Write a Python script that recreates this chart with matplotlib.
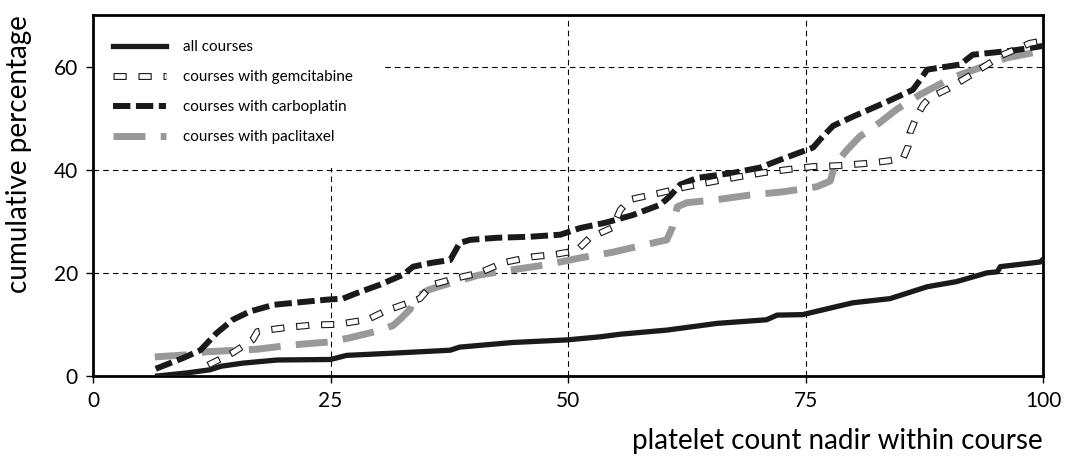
import matplotlib
matplotlib.use('Agg')
from matplotlib import pyplot as plt
from matplotlib.patches import Rectangle

plt.rcParams['font.family'] = ['Lato', 'DejaVu Sans']
plt.rcParams['lines.scale_dashes'] = False

# all courses
all_x = [6.8, 9.9, 12.3, 13.5, 15.8, 19.4, 25.0, 26.7, 31.3, 37.6, 38.6, 44.2, 49.9, 53.4,
         55.5, 60.4, 65.7, 70.9, 72.0, 74.7, 78.6, 80.0, 83.9, 87.8, 90.9, 94.1, 95.2,
         95.5, 99.7, 100]
all_y = [0.0, 0.6, 1.2, 1.9, 2.5, 3.1, 3.2, 4.0, 4.4, 5.0, 5.6, 6.5, 7.0, 7.6,
         8.1, 8.9, 10.2, 10.9, 11.8, 11.9, 13.6, 14.2, 15.0, 17.3, 18.3, 20.0, 20.2,
         21.2, 22.1, 22.6]

# courses with gemcitabine
gem_x = [12.1, 14.7, 16.8, 17.3, 17.9, 20.4, 23.2, 25.7, 28.1, 29.2, 31.0, 32.0, 34.4,
         35.7, 38.3, 40.7, 43.2, 46.2, 48.4, 50.9, 52.3, 54.7, 55.5, 56.5, 59.7, 62.5,
         65.3, 67.9, 70.5, 73.0, 75.8, 78.6, 81.3, 83.7, 85.3, 85.8, 86.0, 86.7, 87.4,
         88.1, 90.0, 92.0, 95.8, 98.6, 100]
gem_y = [2.1, 4.5, 7.0, 8.6, 8.8, 9.4, 9.9, 10.0, 10.7, 11.2, 12.8, 13.4, 15.0,
         17.7, 19.0, 20.0, 22.0, 23.1, 23.5, 24.3, 26.8, 28.8, 32.2, 34.2, 35.5, 36.7,
         37.7, 38.6, 39.4, 40.0, 40.6, 40.8, 41.2, 41.7, 42.3, 44.5, 47.2, 50.3, 52.6,
         54.0, 55.7, 57.9, 62.3, 64.5, 65.0]

# courses with carboplatin
carbo_x = [6.6, 9.5, 11.3, 13.0, 14.7, 16.5, 19.0, 21.8, 24.6, 26.3, 27.8, 30.2, 32.6,
           33.7, 35.5, 37.6, 38.6, 39.7, 42.5, 46.0, 49.2, 51.3, 53.9, 56.8, 59.7, 60.7,
           61.8, 63.6, 67.4, 70.2, 72.3, 75.8, 76.8, 77.9, 80.0, 83.6, 86.3, 87.1, 87.8,
           91.3, 92.6, 94.7, 96.8, 99.0, 100]
carbo_y = [1.4, 3.5, 5.0, 8.3, 10.9, 12.5, 13.8, 14.3, 14.8, 15.0, 16.1, 17.7, 19.6,
           21.2, 21.9, 22.5, 25.8, 26.4, 26.8, 27.0, 27.4, 28.7, 29.7, 31.2, 33.2, 34.8,
           37.1, 38.4, 39.4, 40.4, 41.9, 44.3, 46.4, 48.5, 50.3, 53.2, 55.5, 57.5, 59.4,
           60.4, 62.3, 62.7, 63.1, 63.7, 64.0]

# courses with paclitaxel
pacli_x = [6.5, 9.9, 12.0, 15.2, 17.3, 20.0, 22.1, 24.9, 27.0, 29.9, 31.6, 32.5, 33.4,
           33.8, 35.3, 37.6, 40.7, 44.2, 47.8, 51.3, 54.7, 56.8, 60.4, 61.0, 61.5, 62.5,
           65.7, 69.2, 72.6, 76.2, 77.6, 78.1, 79.4, 80.7, 82.8, 84.6, 87.1, 90.5, 93.4,
           96.2, 99.0, 100]
pacli_y = [3.7, 4.1, 4.7, 5.0, 5.2, 5.8, 6.2, 6.6, 7.4, 8.7, 9.8, 11.3, 13.0,
           15.0, 16.7, 18.0, 19.6, 20.6, 21.6, 22.9, 24.0, 24.9, 26.4, 28.9, 32.8, 33.6,
           34.2, 35.1, 35.7, 36.7, 37.8, 41.0, 43.9, 46.4, 49.1, 51.7, 54.6, 57.9, 59.8,
           61.7, 62.7, 63.0]

fig = plt.figure(figsize=(10.67, 4.61), dpi=100)
ax = fig.add_axes([0.0872, 0.1844, 0.8903, 0.7831])

ax.set_xlim(0, 100)
ax.set_ylim(0, 70)
ax.set_xticks([0, 25, 50, 75, 100])
ax.set_yticks([0, 20, 40, 60])
ax.grid(True, color='black', linestyle=(0, (4, 3)), linewidth=0.8)
for s in ax.spines.values():
    s.set_linewidth(2.0)
ax.tick_params(direction='out', length=5, width=1, labelsize=15, pad=6)

# white box behind the legend hides the grid there
ax.add_patch(Rectangle((0, 0.575), 0.307, 0.43, transform=ax.transAxes,
                       facecolor='white', edgecolor='none', zorder=1.8))

l_all, = ax.plot(all_x, all_y, color='#1a1a1a', lw=3.8, solid_joinstyle='round', zorder=3)

# gemcitabine: outlined dashes (black dash with a white dash on top)
t = 0.8
period = 18
l_gem_b, = ax.plot(gem_x, gem_y, color='#1a1a1a', lw=5.0,
                   linestyle=(0, (9.5, period - 9.5)), zorder=3)
l_gem_w, = ax.plot(gem_x, gem_y, color='white', lw=5.0 - 2 * t,
                   linestyle=(period - t, (9.5 - 2 * t, period - 9.5 + 2 * t)), zorder=3.1)

l_carbo, = ax.plot(carbo_x, carbo_y, color='#1a1a1a', lw=4.3,
                   linestyle=(0, (12.5, 4)), zorder=2.8)
l_pacli, = ax.plot(pacli_x, pacli_y, color='#999999', lw=5.0,
                   linestyle=(0, (23, 11)), zorder=2.6)

leg = ax.legend([l_all, (l_gem_b, l_gem_w), l_carbo, l_pacli],
                ['all courses', 'courses with gemcitabine',
                 'courses with carboplatin', 'courses with paclitaxel'],
                loc='upper left', bbox_to_anchor=(0.0, 0.985), frameon=False,
                fontsize=11, handlelength=3.5, labelspacing=1.05, borderaxespad=0.9,
                handletextpad=1.1)

ax.set_ylabel('cumulative percentage', fontsize=20, loc='top')
ax.yaxis.set_label_coords(-0.064, 1.0)
ax.set_xlabel('platelet count nadir within course', fontsize=20, loc='right', labelpad=12)

fig.savefig('out.png', dpi=100)
